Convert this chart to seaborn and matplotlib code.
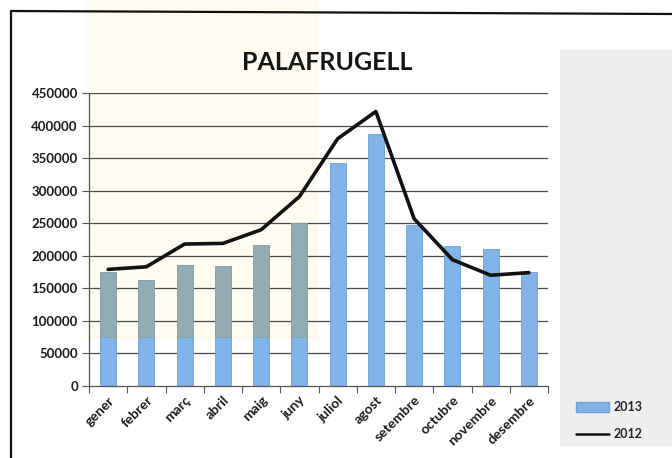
import matplotlib
matplotlib.use("Agg")
import matplotlib.pyplot as plt
from matplotlib.patches import Rectangle, Patch
from matplotlib.lines import Line2D
import numpy as np
import pandas as pd
import seaborn as sns

# data
months = ['gener', 'febrer', 'març', 'abril', 'maig', 'juny',
          'juliol', 'agost', 'setembre', 'octubre', 'novembre', 'desembre']
visits_2013 = [175000, 162000, 186000, 184000, 217000, 250000,
               342000, 388000, 248000, 215000, 211000, 175000]
visits_2012 = [179000, 183000, 218000, 219000, 240000, 291000,
               380000, 422000, 257000, 194000, 170000, 174000]
y_ticks = [0, 50000, 100000, 150000, 200000, 250000, 300000, 350000, 400000, 450000]

sns.set_theme(style="white")
plt.rcParams['font.family'] = ['Lato', 'DejaVu Sans']

W, H = 672, 458
fig = plt.figure(figsize=(W / 100, H / 100), dpi=100)
fig.patch.set_facecolor('white')

# scan artefacts: highlighter tint, grey legend box, page frame
fig.patches.append(Rectangle((85 / W, 1 - 338 / H), 232 / W, 338 / H,
                             transform=fig.transFigure, color='#fefcf0', zorder=0))
fig.patches.append(Rectangle((560 / W, 1 - 445 / H), 112 / W, 395 / H,
                             transform=fig.transFigure, color='#efeff0', zorder=0))
fig.add_artist(Line2D([11 / W, 11 / W], [0, 1 - 11 / H], color='#111111', lw=1.6))
fig.add_artist(Line2D([11 / W, 1], [1 - 11 / H, 1 - 14 / H], color='#111111', lw=1.6))

ax = fig.add_axes([89 / W, 1 - 385.7 / H, 459 / W, 292.4 / H])
ax.set_facecolor('none')
ax.set_zorder(5)

df = pd.DataFrame({'mes': months, '2013': visits_2013, '2012': visits_2012})

for y in y_ticks[1:]:
    ax.axhline(y, color='#4a4a4a', lw=0.9, zorder=0)

sns.barplot(data=df, x='mes', y='2013', color='#80b3e8', width=0.42,
            saturation=1, edgecolor='#6c9fd6', linewidth=0.6, ax=ax, zorder=2)

# highlighter over the upper part of the first bars makes them look grey
tinted = df.iloc[:6]
ax.bar(np.arange(6), tinted['2013'] - 75000, bottom=75000, width=0.42,
       color='#93abb3', edgecolor='#84a0a8', linewidth=0.6, zorder=3)

sns.lineplot(x=np.arange(len(months)), y=df['2012'], color='#111111', lw=2.6,
             ax=ax, zorder=4)

ax.set_xlim(-0.5, len(months) - 0.5)
ax.set_ylim(0, 450000)
ax.set_yticks(y_ticks)
ax.set_yticklabels([str(v) for v in y_ticks], fontsize=9.5, fontweight='bold',
                   color='#1a1a1a')
ax.set_xticks(np.arange(len(months)))
ax.set_xticklabels(months, rotation=45, ha='right', rotation_mode='anchor',
                   fontsize=10, fontweight='bold', color='#1a1a1a')
ax.set_xticks(np.arange(len(months) + 1) - 0.5, minor=True)
ax.tick_params(axis='x', which='major', length=0, pad=6)
ax.tick_params(axis='x', which='minor', length=5, width=0.8, color='#555555',
               direction='out', bottom=True)
ax.tick_params(axis='y', length=5, width=0.8, color='#555555', direction='out',
               left=True, pad=3)
ax.set_xlabel('')
ax.set_ylabel('')
for side in ['top', 'right']:
    ax.spines[side].set_visible(False)
ax.spines['left'].set_color('#555555')
ax.spines['bottom'].set_color('#555555')
ax.spines['left'].set_linewidth(0.9)
ax.spines['bottom'].set_linewidth(0.9)

fig.text(327 / W, 1 - 62 / H, 'PALAFRUGELL', ha='center', va='center',
         fontsize=18, fontweight='bold', color='#151515')

handles = [Patch(facecolor='#80b3e8', edgecolor='#6c9fd6'),
           Line2D([0], [0], color='#111111', lw=1.8)]
leg = fig.legend(handles, ['2013', '2012'], loc='upper left',
                 bbox_to_anchor=(565 / W, 1 - 390 / H), frameon=False,
                 prop={'size': 9, 'weight': 'bold'}, handlelength=2.6,
                 handleheight=0.9, labelspacing=1.2, handletextpad=0.4)

fig.savefig('out.png', dpi=100)
